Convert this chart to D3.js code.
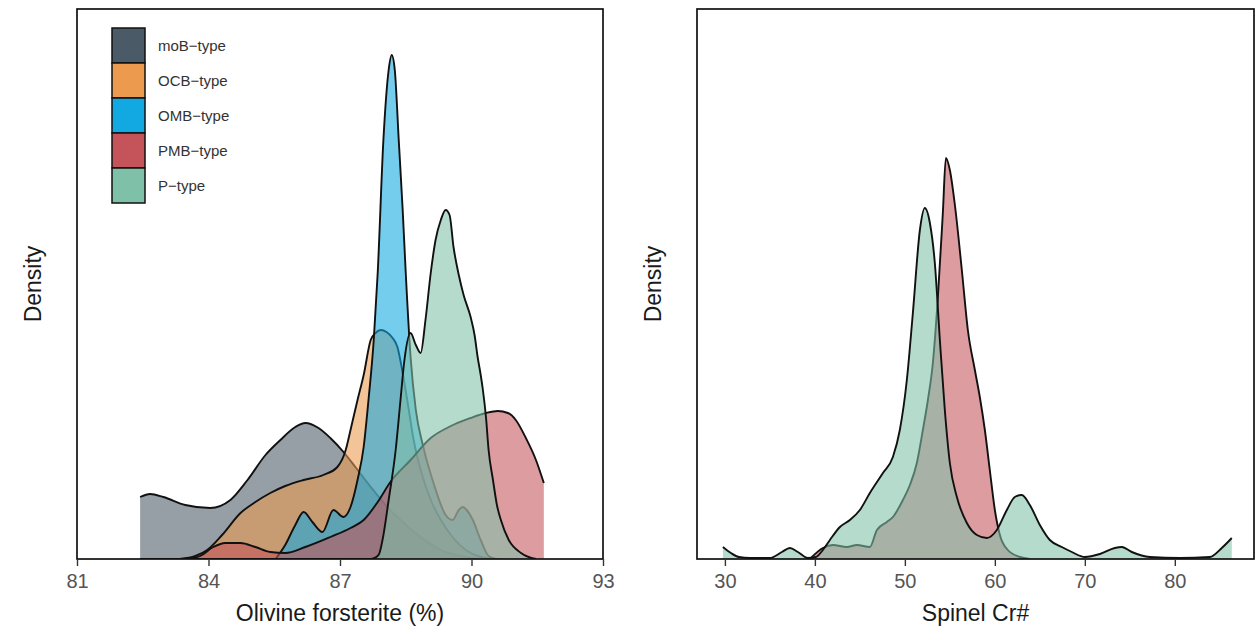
<!DOCTYPE html>
<html>
<head>
<meta charset="utf-8">
<script src="https://cdn.jsdelivr.net/npm/d3@7"></script>
<style>
  body { margin: 0; background: #fff; }
  text { font-family: "Liberation Sans", Arial, sans-serif; }
</style>
</head>
<body>
<svg id="chart" width="1257" height="641"></svg>
<script>
// groups, legend order = drawing order
const groups = ["moB\u2212type", "OCB\u2212type", "OMB\u2212type", "PMB\u2212type", "P\u2212type"];
const groupColors = ["#4a5a66", "#eb9a4e", "#12a8e2", "#c4545a", "#7fc1a8"];

// olivine forsterite (%) densities
const moBFo = [82.44, 82.67, 82.97, 83.47, 84.04, 84.50, 84.89, 85.30, 85.64, 85.98, 86.21, 86.51, 86.78, 87.08, 87.35, 87.70, 88.04, 88.38, 88.84, 89.30, 89.75, 90.21, 90.67];
const moBFoDens = [.062, .065, .062, .054, .051, .059, .079, .104, .119, .132, .136, .131, .121, .107, .092, .072, .054, .039, .022, .009, .003, 0, 0];

const ocbFo = [83.35, 83.70, 83.97, 84.31, 84.73, 85.07, 85.41, 85.75, 86.17, 86.62, 86.94, 87.13, 87.24, 87.40, 87.54, 87.70, 87.81, 87.93, 88.06, 88.20, 88.31, 88.43, 88.57, 88.68, 88.84, 89.07, 89.30, 89.53, 89.87, 90.21, 90.55];
const ocbFoDens = [0, .003, .009, .024, .046, .057, .066, .073, .079, .084, .092, .109, .129, .159, .184, .219, .226, .229, .227, .221, .212, .186, .149, .119, .089, .059, .039, .024, .009, .002, 0];

const ombFo = [85.53, 85.75, 85.98, 86.17, 86.37, 86.60, 86.85, 87.08, 87.24, 87.40, 87.54, 87.65, 87.77, 87.86, 87.99, 88.11, 88.18, 88.25, 88.34, 88.43, 88.50, 88.61, 88.73, 88.89, 89.14, 89.41, 89.57, 89.71, 89.80, 89.89, 90.03, 90.21, 90.39, 90.55];
const ombFoDens = [0, .014, .034, .047, .037, .027, .049, .042, .052, .079, .112, .159, .219, .286, .419, .489, .504, .489, .419, .349, .286, .202, .149, .114, .075, .044, .039, .049, .052, .049, .039, .019, .003, 0];

const pmbFo = [83.58, 83.81, 84.11, 84.38, 84.73, 85.07, 85.41, 85.75, 86.21, 86.78, 87.24, 87.54, 87.86, 88.15, 88.61, 89.07, 89.53, 89.98, 90.33, 90.60, 90.83, 91.01, 91.24, 91.47, 91.65];
const pmbFoDens = [0, .003, .012, .016, .016, .012, .007, .006, .012, .022, .031, .039, .057, .077, .099, .121, .133, .141, .146, .148, .146, .139, .121, .099, .076];

const pFo = [82.44, 87.70, 87.88, 87.97, 88.11, 88.27, 88.38, 88.47, 88.61, 88.73, 88.84, 88.95, 89.07, 89.18, 89.30, 89.41, 89.50, 89.59, 89.71, 89.82, 89.98, 90.07, 90.14, 90.21, 90.26, 90.33, 90.39, 90.49, 90.58, 90.67, 90.85, 91.13, 91.47];
const pFoDens = [0, 0, .004, .019, .059, .109, .159, .199, .226, .214, .206, .239, .286, .319, .339, .349, .344, .312, .284, .264, .242, .224, .202, .184, .169, .142, .109, .079, .054, .039, .019, .006, 0];

// spinel Cr# densities, right panel (only PMB and P types)
const pmbCr = [39.44, 40.89, 42.0, 43.56, 44.67, 46.11, 46.89, 48.0, 48.67, 49.78, 50.56, 51.33, 52.0, 52.56, 53.11, 53.67, 54.22, 54.56, 55.0, 55.56, 56.33, 57.0, 57.78, 58.33, 58.89, 59.44, 60.0, 60.56, 61.44, 62.78, 63.89];
const pmbCrDens = [0, .0022, .0028, .0024, .0028, .0024, .0058, .0074, .0084, .0118, .0148, .0192, .0258, .0318, .0392, .0524, .0692, .0802, .0778, .0708, .0578, .0458, .0378, .0324, .0258, .0178, .0098, .0048, .0018, .0004, 0];

const pCr = [29.78, 30.67, 31.56, 32.78, 35.0, 36.33, 37.22, 38.11, 39.22, 40.11, 40.89, 41.67, 42.78, 43.89, 45.0, 46.11, 47.56, 48.67, 49.44, 50.22, 50.89, 51.67, 52.22, 52.78, 53.33, 53.89, 54.44, 55.0, 55.78, 56.89, 58.0, 59.11, 60.22, 61.33, 62.22, 63.0, 63.89, 65.0, 66.11, 67.44, 68.56, 70.0, 71.67, 73.33, 74.11, 75.22, 77.22, 80.56, 83.89, 85.22, 86.33];
const pCrDens = [.0024, .0012, .0004, .0002, .0002, .0014, .0022, .0014, .0002, .0004, .0018, .0038, .0064, .0078, .0098, .0132, .0172, .0204, .0258, .0358, .0492, .0658, .0702, .0672, .0592, .0438, .0298, .0192, .0124, .0072, .0048, .0042, .0058, .0098, .0124, .0128, .0108, .0068, .0038, .0024, .0014, .0004, .001, .0022, .0024, .0014, .0004, .0002, .0004, .0022, .0042];

const foTicks = [81, 84, 87, 90, 93];
const crTicks = [30, 40, 50, 60, 70, 80];

const svg = d3.select("#chart");
const panelTop = 9, panelBottom = 559;

function zip(xs, ys) {
  return xs.map((x, i) => ({ x: x, y: ys[i] }));
}

function drawPanel(cfg) {
  const x = d3.scaleLinear().domain(cfg.xDomain).range([cfg.left, cfg.right]);
  const y = d3.scaleLinear().domain([0, cfg.yMax]).range([panelBottom, panelTop]);

  const g = svg.append("g");
  const clipId = "clip-" + cfg.id;
  svg.append("clipPath").attr("id", clipId)
    .append("rect")
      .attr("x", cfg.left).attr("y", panelTop)
      .attr("width", cfg.right - cfg.left).attr("height", panelBottom - panelTop);

  const area = d3.area()
    .x(d => x(d.x)).y0(y(0)).y1(d => y(d.y))
    .curve(d3.curveMonotoneX);
  const line = d3.line()
    .x(d => x(d.x)).y(d => y(d.y))
    .curve(d3.curveMonotoneX);

  const plot = g.append("g").attr("clip-path", "url(#" + clipId + ")");
  cfg.series.forEach(s => {
    const pts = zip(s.xs, s.ys);
    plot.append("path")
      .attr("d", area(pts))
      .attr("fill", groupColors[s.group])
      .attr("fill-opacity", 0.58);
    plot.append("path")
      .attr("d", line(pts))
      .attr("fill", "none")
      .attr("stroke", "#111")
      .attr("stroke-width", 1.9)
      .attr("stroke-linejoin", "round");
  });

  // panel border
  g.append("rect")
    .attr("x", cfg.left).attr("y", panelTop)
    .attr("width", cfg.right - cfg.left).attr("height", panelBottom - panelTop)
    .attr("fill", "none").attr("stroke", "#111").attr("stroke-width", 1.7);

  const xAxis = g.append("g")
    .attr("transform", "translate(0," + panelBottom + ")")
    .call(d3.axisBottom(x).tickValues(cfg.ticks).tickSize(7).tickPadding(8));
  xAxis.select(".domain").remove();
  xAxis.selectAll(".tick line").attr("stroke", "#333").attr("stroke-width", 1.4);
  xAxis.selectAll(".tick text")
    .attr("fill", "#555").attr("font-size", 20)
    .attr("font-family", "Liberation Sans, Arial, sans-serif");

  g.append("text")
    .attr("x", (cfg.left + cfg.right) / 2).attr("y", 621)
    .attr("text-anchor", "middle")
    .attr("font-size", 23).attr("fill", "#1a1a1a")
    .text(cfg.xLabel);

  g.append("text")
    .attr("transform", "translate(" + (cfg.left - 36) + "," + ((panelTop + panelBottom) / 2) + ") rotate(-90)")
    .attr("text-anchor", "middle")
    .attr("font-size", 23).attr("fill", "#1a1a1a")
    .text("Density");
}

drawPanel({
  id: "fo", left: 77, right: 603, xDomain: [81, 93], yMax: 0.55,
  ticks: foTicks, xLabel: "Olivine forsterite (%)",
  series: [
    { group: 0, xs: moBFo, ys: moBFoDens },
    { group: 1, xs: ocbFo, ys: ocbFoDens },
    { group: 2, xs: ombFo, ys: ombFoDens },
    { group: 3, xs: pmbFo, ys: pmbFoDens },
    { group: 4, xs: pFo, ys: pFoDens }
  ]
});

drawPanel({
  id: "cr", left: 697, right: 1254, xDomain: [26.9, 88.8], yMax: 0.11,
  ticks: crTicks, xLabel: "Spinel Cr#",
  series: [
    { group: 3, xs: pmbCr, ys: pmbCrDens },
    { group: 4, xs: pCr, ys: pCrDens }
  ]
});

// legend
const legend = svg.append("g").attr("transform", "translate(112,28)");
const keyH = 35, keyW = 33;
groups.forEach((name, i) => {
  legend.append("rect")
    .attr("x", 0).attr("y", i * keyH)
    .attr("width", keyW).attr("height", keyH)
    .attr("fill", groupColors[i])
    .attr("stroke", "#111").attr("stroke-width", 1.5);
  legend.append("text")
    .attr("x", keyW + 13).attr("y", i * keyH + keyH / 2)
    .attr("dy", "0.35em")
    .attr("font-size", 15).attr("fill", "#333")
    .text(name);
});
</script>
</body>
</html>
